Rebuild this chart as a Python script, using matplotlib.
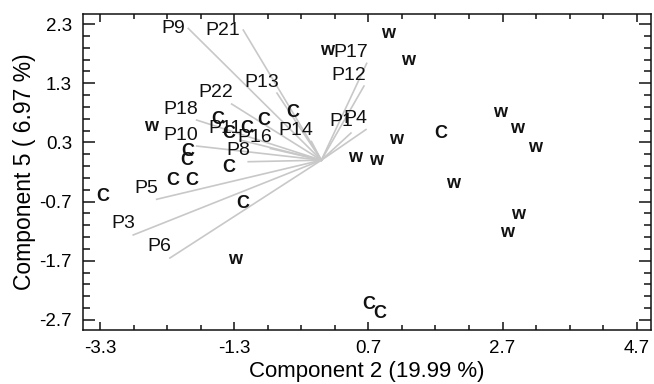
import numpy as np
import matplotlib
matplotlib.use('Agg')
from matplotlib import pyplot as plt
from matplotlib.ticker import FixedLocator

plt.rcParams['font.family'] = ['Liberation Sans', 'DejaVu Sans']
plt.rcParams['axes.unicode_minus'] = False

# loadings (end points of the grey lines)
load_names = ['P9', 'P21', 'P13', 'P22', 'P18', 'P10', 'P11', 'P16', 'P8', 'P14',
              'P17', 'P12', 'P1', 'P4', 'P5', 'P3', 'P6']
load_x = [-1.984, -1.164, -0.662, -1.337, -1.859, -1.859, -1.213, -0.759, -1.090, -0.148,
          0.675, 0.635, 0.441, 0.665, -2.455, -2.804, -2.257]
load_y = [2.227, 2.199, 1.134, 0.949, 0.678, 0.239, 0.341, 0.197, -0.026, 0.315,
          1.636, 1.253, 0.459, 0.518, -0.661, -1.264, -1.653]

# scores, w and c groups
w_x = [0.993, 0.084, 1.291, 2.662, 2.916, 3.184, 1.112, 0.501, 0.814, 1.962,
       2.930, 2.766, -2.540, -1.288]
w_y = [2.148, 1.861, 1.692, 0.814, 0.543, 0.222, 0.341, 0.053, 0.003, -0.386,
       -0.926, -1.230, 0.577, -1.686]
c_x = [1.783, 0.710, 0.873, -0.423, -0.856, -1.541, -1.377, -1.109, -1.988, -2.003,
       -1.377, -2.212, -1.929, -3.255, -1.169]
c_y = [0.459, -2.447, -2.599, 0.814, 0.678, 0.695, 0.459, 0.543, 0.155, 0.003,
       -0.116, -0.335, -0.335, -0.622, -0.724]

x_ticks = [-3.3, -1.3, 0.7, 2.7, 4.7]
y_ticks = [2.3, 1.3, 0.3, -0.7, -1.7, -2.7]

fig = plt.figure(figsize=(6.54, 3.84), dpi=100)
ax = fig.add_axes([0.1269, 0.1406, 0.8685, 0.8229])

for name, lx, ly in zip(load_names, load_x, load_y):
    ax.plot([0, lx], [0, ly], color='#c8c8c8', lw=1.2, zorder=1)
    if ly > 2.0:
        # labels near the top edge are kept inside the frame
        ax.annotate(name, (lx, ly), xytext=(-2, 0), textcoords='offset points',
                    ha='right', va='center', fontsize=14, color='#111111', zorder=3)
    else:
        ax.annotate(name, (lx, ly), xytext=(1.3, 4.7), textcoords='offset points',
                    ha='right', va='baseline', fontsize=14, color='#111111', zorder=3)

for x, y in zip(w_x, w_y):
    ax.text(x, y, 'w', ha='center', va='center', fontsize=13, fontweight='bold',
            color='#111111', zorder=4)
for x, y in zip(c_x, c_y):
    ax.text(x, y, 'C', ha='center', va='center', fontsize=13, fontweight='bold',
            color='#111111', zorder=4)

ax.set_xlim(-3.553, 4.913)
ax.set_ylim(-2.87, 2.47)

ax.xaxis.set_major_locator(FixedLocator(x_ticks))
ax.xaxis.set_minor_locator(FixedLocator(np.arange(-3.3, 4.71, 0.5)))
ax.yaxis.set_major_locator(FixedLocator(y_ticks))
ax.yaxis.set_minor_locator(FixedLocator(np.arange(-2.7, 2.31, 0.2)))
ax.set_xticklabels([f'{v:.1f}' for v in x_ticks])
ax.set_yticklabels([f'{v:.1f}' for v in y_ticks])

ax.tick_params(axis='x', which='both', direction='in', top=True, bottom=True,
               labelsize=13.5, pad=7, width=1.1, color='#111111')
ax.tick_params(axis='y', which='both', direction='in', left=True, right=True,
               labelsize=13.5, pad=8, width=1.1, color='#111111')
ax.tick_params(axis='x', which='major', length=6)
ax.tick_params(axis='x', which='minor', length=3.6)
ax.tick_params(axis='y', which='major', length=8.6)
ax.tick_params(axis='y', which='minor', length=5)
for s in ax.spines.values():
    s.set_linewidth(1.1)
    s.set_color('#111111')

ax.set_xlabel('Component 2 (19.99 %)', fontsize=16, labelpad=3)
ax.set_ylabel('Component 5 ( 6.97 %)', fontsize=16.5, labelpad=2)

fig.savefig('out.png', dpi=100)
